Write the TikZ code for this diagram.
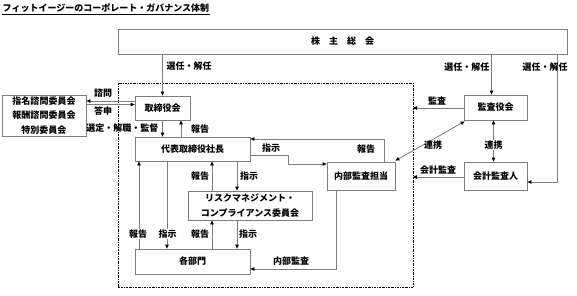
\documentclass[tikz,border=0pt]{standalone}
\usepackage{fontspec}
\setmainfont{Noto Sans CJK JP}
\usetikzlibrary{arrows.meta}
\definecolor{ln}{RGB}{125,125,125}
\tikzset{
  box/.style={draw=ln, line width=0.8pt, rectangle, inner sep=0pt, align=center},
  arr/.style={draw=ln, line width=0.8pt, -{Triangle[length=4pt,width=3.5pt,color=black]}},
  darr/.style={draw=ln, line width=0.8pt, {Triangle[length=4pt,width=3.5pt,color=black]}-{Triangle[length=4pt,width=3.5pt,color=black]}},
  lab/.style={inner sep=0.5pt, font=\fontsize{9}{10}\selectfont\bfseries},
  wlab/.style={lab, fill=white},
}
\begin{document}
\begin{tikzpicture}[x=1pt, y=-1pt, font=\fontsize{9}{11}\selectfont\bfseries]
\useasboundingbox (0,0) rectangle (577,295);
% title
\node[lab, anchor=west] (title) at (2,8) {フィットイージーのコーポレート・ガバナンス体制};
\draw[line width=0.6pt] ([yshift=-1pt]title.south west) -- ([yshift=-1pt]title.south east);
% dashed company frame
\draw[line width=0.9pt, dash pattern=on 2pt off 1pt on 0.6pt off 1pt] (118,83) rectangle (413,287);
% boxes
\node[box, minimum width=449pt, minimum height=25pt] (kabu) at (342.5,41.5) {株\hspace{1em}主\hspace{1em}総\hspace{1em}会};
\node[box, minimum width=55pt, minimum height=24pt] (tori) at (162.5,108) {取締役会};
\node[box, minimum width=84pt, minimum height=41pt, font=\fontsize{9}{14.5}\selectfont\bfseries] (left) at (44,115.5) {指名諮問委員会\\報酬諮問委員会\\特別委員会};
\node[box, minimum width=115pt, minimum height=24pt] (daihyo) at (192.5,149) {代表取締役社長};
\node[box, minimum width=68pt, minimum height=28pt] (naibu) at (361,176) {内部監査担当};
\node[box, minimum width=63pt, minimum height=25pt] (kansa) at (495.5,107.5) {監査役会};
\node[box, minimum width=63pt, minimum height=28pt] (kaikei) at (495.5,176) {会計監査人};
\node[box, minimum width=124pt, minimum height=29pt, font=\fontsize{9}{15}\selectfont\bfseries] (risk) at (250,205.5) {リスクマネジメント・\\コンプライアンス委員会};
\node[box, minimum width=115pt, minimum height=25pt] (kakubu) at (192.5,261.5) {各部門};
% frame edge points
\coordinate (fk) at (413,108);
\coordinate (fa) at (413,177);
% shareholders -> board
\draw[arr] (kabu.south -| tori.north) -- (tori.north);
\node[lab, anchor=west] at (166,66) {選任・解任};
% board <-> committees
\draw[arr] ([yshift=7pt]tori.west) -- ([yshift=7pt]tori.west -| left.east);
\draw[arr] ([yshift=3.5pt]tori.west -| left.east) -- ([yshift=3.5pt]tori.west);
\node[lab] at (103,93) {諮問};
\node[lab] at (103,111) {答申};
% board <-> president
\draw[arr] (tori.south) -- (tori.south |- daihyo.north);
\node[lab, anchor=east] at (159,128) {選定・解職・監督};
\draw[arr] (daihyo.north -| 181,0) -- (tori.south -| 181,0);
\node[lab] at (200,129) {報告};
% president <-> internal audit
\coordinate (r1) at (384,139);
\draw[arr] (naibu.north -| r1) -- (r1) -- (r1 -| daihyo.east);
\node[lab] at (366,149) {報告};
\coordinate (i1) at (288,155);
\coordinate (i2) at (288,164);
\draw[arr] (i1 -| daihyo.east) -- (i1) -- (i2) -- (i2 -| naibu.west);
\node[lab] at (271,148) {指示};
% audit board <-> internal audit
\draw[darr] ([yshift=1pt]naibu.north east) -- ([xshift=1pt,yshift=-1pt]kansa.south west);
\node[lab] at (433,145) {連携};
% shareholders -> audit board
\draw[arr] ([xshift=-4pt]kabu.south -| kansa.north) -- ([xshift=-4pt]kansa.north);
\node[lab, anchor=east] at (490,67) {選任・解任};
% shareholders -> accounting auditor
\coordinate (s1) at (557,182);
\draw[arr] (kabu.south -| s1) -- (s1) -- (s1 -| kaikei.east);
\node[lab] at (545,67) {選任・解任};
% audit board -> frame
\draw[arr] (kansa.west |- fk) -- (fk);
\node[lab] at (437,101) {監査};
% audit board <-> accounting auditor
\draw[darr] ([xshift=-2pt]kansa.south) -- ([xshift=-2pt]kaikei.north);
\node[wlab] at (493.5,145) {連携};
% accounting auditor -> frame
\draw[arr] (kaikei.west |- fa) -- (fa);
\node[lab] at (438,170) {会計監査};
% president <-> risk committee
\draw[arr] (daihyo.south -| 237,0) -- (risk.north -| 237,0);
\node[lab] at (249,176) {指示};
\draw[arr] (risk.north -| 212,0) -- (daihyo.south -| 212,0);
\node[lab] at (200,176) {報告};
% president <-> departments
\draw[arr] (kakubu.north -| 139,0) -- (daihyo.south -| 139,0);
\node[wlab] at (138,234) {報告};
\draw[arr] (daihyo.south -| 167,0) -- (kakubu.north -| 167,0);
\node[wlab] at (167.5,234) {指示};
% risk committee <-> departments
\draw[arr] (kakubu.north -| 212,0) -- (risk.south -| 212,0);
\node[lab] at (200,234) {報告};
\draw[arr] (risk.south -| 237,0) -- (kakubu.north -| 237,0);
\node[lab] at (248,234) {指示};
% internal audit -> departments
\coordinate (a1) at (336,269);
\draw[arr] (naibu.south -| a1) -- (a1) -- (a1 -| kakubu.east);
\node[lab] at (291,261) {内部監査};
\end{tikzpicture}
\end{document}
